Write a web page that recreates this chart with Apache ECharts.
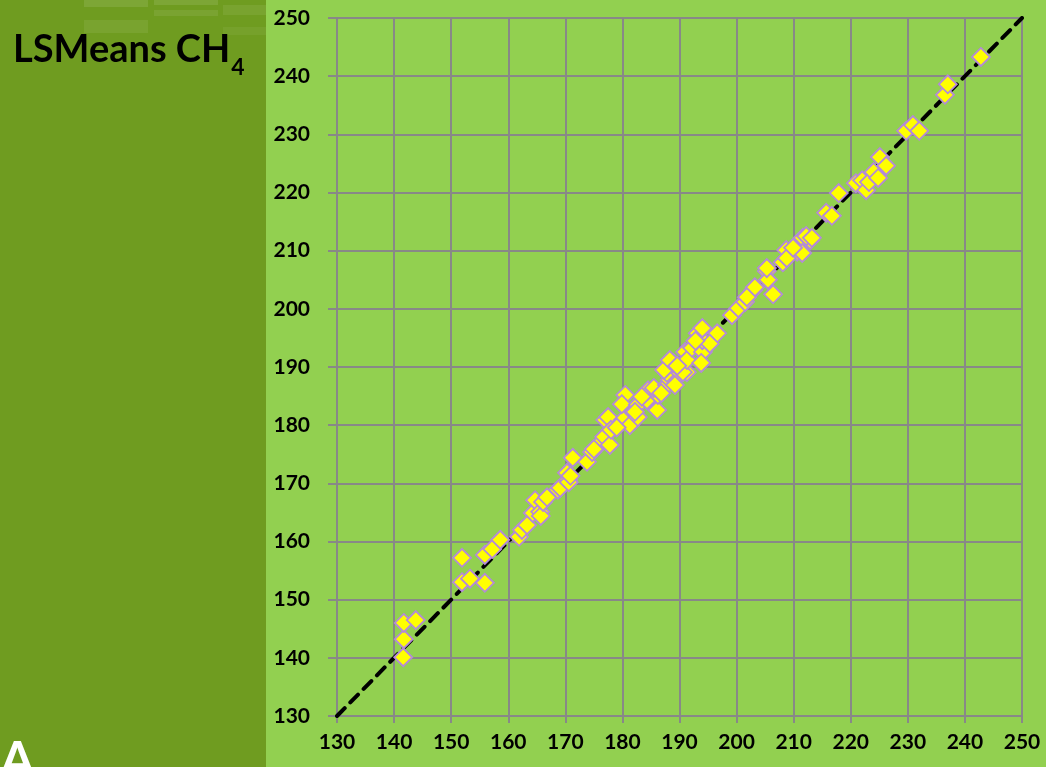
<!DOCTYPE html>
<html><head><meta charset="utf-8">
<script src="https://cdn.jsdelivr.net/npm/echarts@6/dist/echarts.min.js"></script>
<style>html,body{margin:0;padding:0;background:#6f9c20;overflow:hidden}#c{width:1046px;height:767px}</style>
</head><body><div id="c"></div>
<script>
// Observed (x) vs predicted (y) LSMeans CH4
const xValues = [141.6,141.7,141.7,143.8,151.9,151.9,153.3,155.9,155.9,157.2,158.6,161.9,162.4,163.3,164.3,164.7,165.6,165.7,166.1,166.8,168.7,169.1,170.3,170.5,170.6,171.3,173.8,174.7,175.5,176.1,176.8,177.8,177.0,177.5,178.0,180.1,180.5,179.9,181.3,182.7,182.7,182.2,184.3,184.5,186.1,186.2,185.5,187.8,188.3,187.8,190.1,189.2,187.3,191.3,190.6,188.9,188.3,191.0,191.3,192.2,194.1,194.0,193.2,194.0,196.6,193.8,195.3,199.2,200.3,201.5,202.9,205.3,206.4,205.5,208.1,208.7,210.6,211.1,211.6,212.9,212.2,208.8,215.7,216.7,217.9,220.9,222.0,222.7,223.2,224.0,224.8,225.1,226.2,229.7,230.9,232.0,236.5,237.0,242.8,213.2,211.5,205.3,209.9,203.2,201.8,183.4,179.0,186.8,192.8,170.9,175.0,189.6];
const yValues = [140.1,143.2,146.0,146.5,157.2,153.0,153.6,152.9,157.7,158.7,160.3,160.8,162.0,162.8,164.9,167.1,165.1,164.4,166.8,167.6,168.9,169.2,171.8,170.6,170.2,174.4,173.7,175.4,176.2,176.9,178.0,176.6,180.9,181.4,179.2,180.9,185.2,183.6,180.0,181.4,183.5,182.3,184.3,186.0,182.6,185.2,186.4,186.9,187.8,189.0,189.0,186.9,189.5,189.1,189.1,190.7,191.2,192.6,191.2,193.3,192.6,194.6,195.8,196.7,195.8,190.7,194.0,198.9,200.1,201.2,203.2,206.5,202.5,205.0,208.0,210.1,209.8,211.3,212.2,211.8,212.5,208.7,216.5,216.0,219.9,221.6,222.1,220.4,221.8,223.5,222.5,226.1,224.6,230.6,231.6,230.6,236.8,238.6,243.3,212.2,209.6,207.0,210.5,203.7,202.0,184.9,179.6,185.5,194.5,171.3,175.9,190.2];
const axisMin = 130, axisMax = 250, axisStep = 10;
const identityLine = [[axisMin, axisMin], [axisMax, axisMax]];
const titleMain = 'LSMeans CH', titleSub = '4', panelLetter = 'A';

const points = xValues.map((x, i) => [x, yValues[i]]);
const chart = echarts.init(document.getElementById('c'), null, {renderer: 'canvas'});
const gridLine = {show: true, lineStyle: {color: '#888888', width: 2}};
const labelStyle = {color: '#000', fontFamily: 'Lato', fontWeight: 'bold', fontSize: 21};
chart.setOption({
  backgroundColor: '#6f9c20',
  animation: false,
  graphic: [
    {type: 'rect', z: -10, shape: {x: 266, y: 0, width: 780, height: 767}, style: {fill: '#92d050'}},
    {type: 'rect', z: -9, shape: {x: 84, y: 0, width: 64, height: 7}, style: {fill: 'rgba(255,255,255,0.1)'}},
    {type: 'rect', z: -9, shape: {x: 154, y: 0, width: 64, height: 5}, style: {fill: 'rgba(255,255,255,0.1)'}},
    {type: 'rect', z: -9, shape: {x: 154, y: 10, width: 64, height: 6}, style: {fill: 'rgba(255,255,255,0.08)'}},
    {type: 'rect', z: -9, shape: {x: 223, y: 5, width: 43, height: 10}, style: {fill: 'rgba(255,255,255,0.07)'}},
    {type: 'rect', z: -9, shape: {x: 84, y: 20, width: 64, height: 13}, style: {fill: 'rgba(255,255,255,0.07)'}},
    {type: 'rect', z: -9, shape: {x: 223, y: 27, width: 43, height: 8}, style: {fill: 'rgba(255,255,255,0.05)'}},
    {type: 'text', left: 13, top: 31, style: {
      text: '{m|' + titleMain + '}{s|' + titleSub + '}',
      rich: {
        m: {fontFamily: 'Lato', fontWeight: 'bold', fontSize: 38, fill: '#000', verticalAlign: 'bottom', lineHeight: 42},
        s: {fontFamily: 'Lato', fontWeight: 'bold', fontSize: 23, fill: '#000', verticalAlign: 'bottom', lineHeight: 42, padding: [0,0,-10,1]}
      }
    }},
    {type: 'text', left: 0, top: 736, style: {text: panelLetter, fontFamily: 'Lato', fontWeight: 'bold', fontSize: 50, fill: '#ffffff'}}
  ],
  grid: {left: 337, right: 24, top: 18, bottom: 51, containLabel: false},
  xAxis: {
    type: 'value', min: axisMin, max: axisMax, interval: axisStep,
    axisLine: {show: true, lineStyle: {color: '#888888', width: 2}},
    axisTick: {show: true, length: 7, lineStyle: {color: '#888888', width: 2}},
    splitLine: gridLine,
    axisLabel: Object.assign({margin: 16}, labelStyle)
  },
  yAxis: {
    type: 'value', min: axisMin, max: axisMax, interval: axisStep,
    axisLine: {show: true, lineStyle: {color: '#888888', width: 2}},
    axisTick: {show: true, length: 9, lineStyle: {color: '#888888', width: 2}},
    splitLine: gridLine,
    axisLabel: Object.assign({margin: 27}, labelStyle)
  },
  series: [
    {type: 'line', data: identityLine, symbol: 'none', z: 2,
     lineStyle: {color: '#000', width: 4, type: [11, 8], cap: 'round'}},
    {type: 'scatter', data: points, symbol: 'diamond', symbolSize: 18, z: 3,
     itemStyle: {color: '#ffff00', borderColor: '#b48ad8', borderWidth: 1.8, opacity: 1}}
  ]
});
</script></body></html>
